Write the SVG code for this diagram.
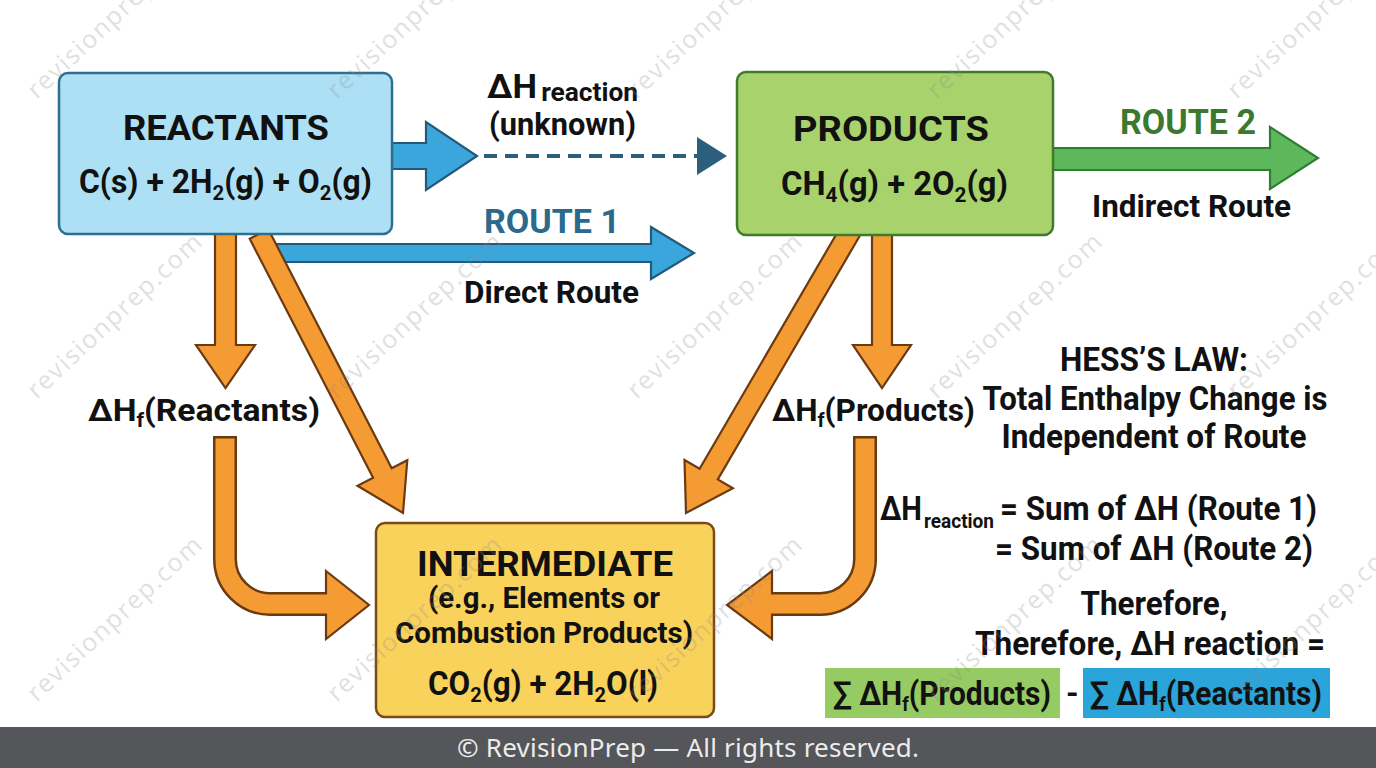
<svg xmlns="http://www.w3.org/2000/svg" width="1376" height="768" viewBox="0 0 1376 768">
<style>
.t{font-family:"Roboto","Liberation Sans",sans-serif;font-weight:700;fill:#111;}
.box{stroke-width:2.5;}
.or{fill:#f59b33;stroke:#6b3a12;stroke-width:2.2;stroke-linejoin:miter;}
.bl{fill:#3aa6dc;stroke:#24597a;stroke-width:2.2;}
.wm{font-family:"Open Sans","Noto Sans",sans-serif;font-size:25px;fill:#8a8a8a;opacity:0.26;}
</style>
<rect width="1376" height="768" fill="#ffffff"/>

<g id="connectors">
  <line x1="484" y1="156" x2="700" y2="156" stroke="#2c5f7c" stroke-width="4" stroke-dasharray="13 8"/>
  <polygon points="697,137 727,156 697,175" fill="#2c5f7c"/>
  <polygon class="bl" points="392,143 426,143 426,122 477,156 426,190 426,169 392,169"/>
  <polygon class="bl" points="276,244 651,244 651,227 694,253 651,279 651,262 276,262"/>
  <polygon points="1053,148 1270,148 1270,127 1318,158 1270,189 1270,170 1053,170" fill="#5cb85a" stroke="#2f7d32" stroke-width="2.2"/>
  <polygon class="or" points="215,228 236,228 236,345 255,345 225.5,388 196,345 215,345"/>
  <polygon class="or" points="268.3,229.2 391.7,468.2 407.3,460.2 403,513 357.5,485.8 373.1,477.8 249.7,238.8"/>
  <polygon class="or" points="860.1,235.3 717.8,479.4 732.9,488.2 686,513 684.5,460 699.6,468.8 841.9,224.7"/>
  <polygon class="or" points="872,228 892,228 892,345 911,345 882,388 853,345 872,345"/>
  <path d="M225,436 V559 A45,45 0 0 0 270,604 H330" fill="none" stroke="#6b3a12" stroke-width="24"/>
  <polygon class="or" points="326,571 369,605 326,639"/>
  <path d="M225,438.5 V559 A45,45 0 0 0 270,604 H329" fill="none" stroke="#f59b33" stroke-width="19"/>
  <path d="M865,436 V559 A45,45 0 0 1 820,604 H768" fill="none" stroke="#6b3a12" stroke-width="24"/>
  <polygon class="or" points="772,571 727,605 772,639"/>
  <path d="M865,438.5 V559 A45,45 0 0 1 820,604 H769" fill="none" stroke="#f59b33" stroke-width="19"/>
</g>

<g id="reactants">
  <rect class="box" x="59" y="73" width="333" height="161" rx="9" fill="#aee0f5" stroke="#2e6e8e"/>
  <text class="t" x="226" y="140" font-size="35" text-anchor="middle" textLength="206" lengthAdjust="spacingAndGlyphs">REACTANTS</text>
  <text class="t" x="79" y="193" font-size="33" textLength="293" lengthAdjust="spacingAndGlyphs">C(s) + 2H<tspan font-size="21" dy="7">2</tspan><tspan dy="-7">(g) + O</tspan><tspan font-size="21" dy="7">2</tspan><tspan dy="-7">(g)</tspan></text>
</g>

<g id="products">
  <rect class="box" x="737" y="72" width="316" height="163" rx="9" fill="#a8d26c" stroke="#3d7c2b"/>
  <text class="t" x="891" y="141" font-size="35" text-anchor="middle" textLength="196" lengthAdjust="spacingAndGlyphs">PRODUCTS</text>
  <text class="t" x="781" y="195" font-size="33" textLength="227" lengthAdjust="spacingAndGlyphs">CH<tspan font-size="21" dy="7">4</tspan><tspan dy="-7">(g) + 2O</tspan><tspan font-size="21" dy="7">2</tspan><tspan dy="-7">(g)</tspan></text>
</g>

<g id="intermediate">
  <rect class="box" x="376" y="523" width="338" height="194" rx="9" fill="#f9d25c" stroke="#7a4a18"/>
  <text class="t" x="545" y="576" font-size="35" text-anchor="middle" textLength="256" lengthAdjust="spacingAndGlyphs">INTERMEDIATE</text>
  <text class="t" x="544" y="608" font-size="29" text-anchor="middle" textLength="232" lengthAdjust="spacingAndGlyphs">(e.g., Elements or</text>
  <text class="t" x="544" y="643" font-size="29" text-anchor="middle" textLength="298" lengthAdjust="spacingAndGlyphs">Combustion Products)</text>
  <text class="t" x="428" y="695" font-size="33" textLength="230" lengthAdjust="spacingAndGlyphs">CO<tspan font-size="21" dy="7">2</tspan><tspan dy="-7">(g) + 2H</tspan><tspan font-size="21" dy="7">2</tspan><tspan dy="-7">O(l)</tspan></text>
</g>

<g id="labels">
  <text class="t" x="487" y="98" font-size="33" textLength="151" lengthAdjust="spacingAndGlyphs">ΔH<tspan font-size="25" dx="4" dy="3">reaction</tspan></text>
  <text class="t" x="489" y="135" font-size="32" textLength="147" lengthAdjust="spacingAndGlyphs">(unknown)</text>
  <text class="t" x="484" y="233" font-size="34" style="fill:#2b6a8c" textLength="136" lengthAdjust="spacingAndGlyphs">ROUTE 1</text>
  <text class="t" x="464" y="303" font-size="32" textLength="175" lengthAdjust="spacingAndGlyphs">Direct Route</text>
  <text class="t" x="1120" y="134" font-size="35" style="fill:#3a7a30" textLength="136" lengthAdjust="spacingAndGlyphs">ROUTE 2</text>
  <text class="t" x="1092" y="217" font-size="32" textLength="199" lengthAdjust="spacingAndGlyphs">Indirect Route</text>
  <text class="t" x="88" y="421" font-size="32" textLength="232" lengthAdjust="spacingAndGlyphs">ΔH<tspan font-size="20" dy="6">f</tspan><tspan dy="-6">(Reactants)</tspan></text>
  <text class="t" x="772" y="421" font-size="32" textLength="203" lengthAdjust="spacingAndGlyphs">ΔH<tspan font-size="20" dy="6">f</tspan><tspan dy="-6">(Products)</tspan></text>
</g>

<g id="hess-law">
  <text class="t" x="1154" y="371" font-size="33" text-anchor="middle" textLength="188" lengthAdjust="spacingAndGlyphs">HESS’S LAW:</text>
  <text class="t" x="1155" y="410" font-size="33" text-anchor="middle" textLength="345" lengthAdjust="spacingAndGlyphs">Total Enthalpy Change is</text>
  <text class="t" x="1154" y="448" font-size="33" text-anchor="middle" textLength="305" lengthAdjust="spacingAndGlyphs">Independent of Route</text>
  <text class="t" x="880" y="520" font-size="33" textLength="42" lengthAdjust="spacingAndGlyphs">ΔH</text>
  <text class="t" x="924" y="528" font-size="21" textLength="70" lengthAdjust="spacingAndGlyphs">reaction</text>
  <text class="t" x="1000" y="520" font-size="33" textLength="317" lengthAdjust="spacingAndGlyphs">= Sum of ΔH (Route 1)</text>
  <text class="t" x="995" y="560" font-size="33" textLength="318" lengthAdjust="spacingAndGlyphs">= Sum of ΔH (Route 2)</text>
  <text class="t" x="1154" y="615" font-size="33" text-anchor="middle" textLength="147" lengthAdjust="spacingAndGlyphs">Therefore,</text>
  <text class="t" x="975" y="655" font-size="33" textLength="350" lengthAdjust="spacingAndGlyphs">Therefore, ΔH reaction =</text>
</g>

<g id="formula">
  <rect x="825" y="668" width="235" height="50" fill="#96ca62"/>
  <rect x="1083" y="668" width="247" height="50" fill="#2ba4d9"/>
  <text class="t" x="833" y="705" font-size="33" textLength="218" lengthAdjust="spacingAndGlyphs">∑ ΔH<tspan font-size="20" dy="6">f</tspan><tspan dy="-6">(Products)</tspan></text>
  <text class="t" x="1066" y="704" font-size="32">-</text>
  <text class="t" x="1090" y="705" font-size="33" textLength="232" lengthAdjust="spacingAndGlyphs">∑ ΔH<tspan font-size="20" dy="6">f</tspan><tspan dy="-6">(Reactants)</tspan></text>
</g>

<g id="footer">
  <rect x="0" y="727" width="1376" height="41" fill="#55565a"/>
  <text x="688" y="757" font-family="'Noto Sans','Open Sans',sans-serif" font-size="26" fill="#ececec" text-anchor="middle" textLength="462">© RevisionPrep — All rights reserved.</text>
</g>

<g id="watermark">
  <text class="wm" transform="translate(120,22) rotate(-43)" text-anchor="middle" textLength="228">revisionprep.com</text>
  <text class="wm" transform="translate(420,22) rotate(-43)" text-anchor="middle" textLength="228">revisionprep.com</text>
  <text class="wm" transform="translate(720,22) rotate(-43)" text-anchor="middle" textLength="228">revisionprep.com</text>
  <text class="wm" transform="translate(1020,22) rotate(-43)" text-anchor="middle" textLength="228">revisionprep.com</text>
  <text class="wm" transform="translate(1320,22) rotate(-43)" text-anchor="middle" textLength="228">revisionprep.com</text>
  <text class="wm" transform="translate(120,322) rotate(-43)" text-anchor="middle" textLength="228">revisionprep.com</text>
  <text class="wm" transform="translate(420,322) rotate(-43)" text-anchor="middle" textLength="228">revisionprep.com</text>
  <text class="wm" transform="translate(720,322) rotate(-43)" text-anchor="middle" textLength="228">revisionprep.com</text>
  <text class="wm" transform="translate(1020,322) rotate(-43)" text-anchor="middle" textLength="228">revisionprep.com</text>
  <text class="wm" transform="translate(1320,322) rotate(-43)" text-anchor="middle" textLength="228">revisionprep.com</text>
  <text class="wm" transform="translate(120,625) rotate(-43)" text-anchor="middle" textLength="228">revisionprep.com</text>
  <text class="wm" transform="translate(420,625) rotate(-43)" text-anchor="middle" textLength="228">revisionprep.com</text>
  <text class="wm" transform="translate(720,625) rotate(-43)" text-anchor="middle" textLength="228">revisionprep.com</text>
  <text class="wm" transform="translate(1020,625) rotate(-43)" text-anchor="middle" textLength="228">revisionprep.com</text>
  <text class="wm" transform="translate(1320,625) rotate(-43)" text-anchor="middle" textLength="228">revisionprep.com</text>
</g>
</svg>
